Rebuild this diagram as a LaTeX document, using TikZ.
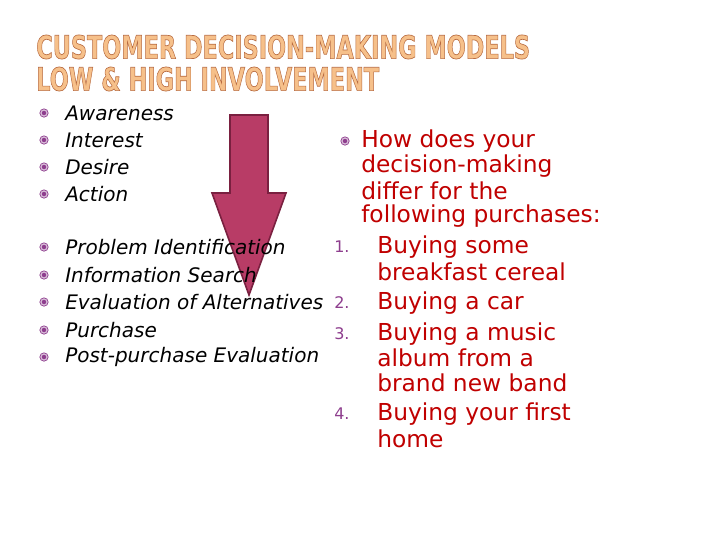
\documentclass[tikz,border=0pt]{standalone}
\usepackage{fontspec}
\setmainfont{DejaVu Sans}
\begin{document}
\begin{tikzpicture}[x=0.75pt,y=-0.75pt]
\definecolor{redtxt}{HTML}{C00000}
\definecolor{arrowfill}{HTML}{B83C66}
\definecolor{arrowline}{HTML}{7A2040}
\definecolor{bul}{HTML}{8E3E8E}
\definecolor{ttl}{HTML}{F6C08A}
\tikzset{
  lefttxt/.style={anchor=west,font=\fontsize{15}{15}\selectfont\itshape,inner sep=0},
  righttxt/.style={anchor=west,font=\fontsize{17.5}{17.5}\selectfont,text=redtxt,inner sep=0},
  numtxt/.style={anchor=west,font=\fontsize{12}{12}\selectfont,text=bul,inner sep=0},
  ttlstyle/.style={anchor=west,font=\fontsize{24}{24}\selectfont\bfseries,text=ttl,inner sep=0}
}
\newcommand{\outl}[1]{\scalebox{0.70}[1.0]{\special{pdf:literal direct 2 Tr 0.5 w 0.72 0.42 0.25 RG}#1\special{pdf:literal direct 0 Tr}}}
\newcommand{\bullt}[2]{\fill[bul!35] (#1,#2) circle (4.2); \draw[bul,line width=0.5pt] (#1,#2) circle (4.2); \fill[bul] (#1,#2) circle (2.2);}
\useasboundingbox (0,0) rectangle (720,540);
\fill[white] (0,0) rectangle (720,540);
\node[ttlstyle] (t1) at (36,47) {\outl{CUSTOMER DECISION-MAKING MODELS}};
\node[ttlstyle] (t2) at (36,79) {\outl{LOW \& HIGH INVOLVEMENT}};
% arrow
\draw[fill=arrowfill,draw=arrowline,line width=1.2pt] (230,115) -- (268,115) -- (268,193) -- (286,193) -- (249,295) -- (212,193) -- (230,193) -- cycle;
% left lists
\foreach \y/\t [count=\i] in {113/Awareness,140/Interest,167/Desire,194/Action,247/Problem Identification,275/Information Search,302/Evaluation of Alternatives,330/Purchase,357/Post-purchase Evaluation}{
  \bullt{44}{\y}
  \node[lefttxt] (l\i) at (65,\y) {\t};
}
% right
\bullt{345}{141}
\node[righttxt] (r1) at (361,141) {How does your};
\node[righttxt] (r2) at (361,166) {decision-making};
\node[righttxt] (r3) at (361,191) {differ for the};
\node[righttxt] (r4) at (361,216) {following purchases:};
\foreach \y/\n in {247/1.,303/2.,334/3.,414/4.}{\node[numtxt] (n\n) at (334,\y) {\n};}
\foreach \y/\t [count=\i] in {247/Buying some,272/breakfast cereal,303/Buying a car,334/Buying a music,358/album from a,383/brand new band,414/Buying your first,439/home}{
  \node[righttxt] (i\i) at (377,\y) {\t};
}
\end{tikzpicture}
\end{document}
